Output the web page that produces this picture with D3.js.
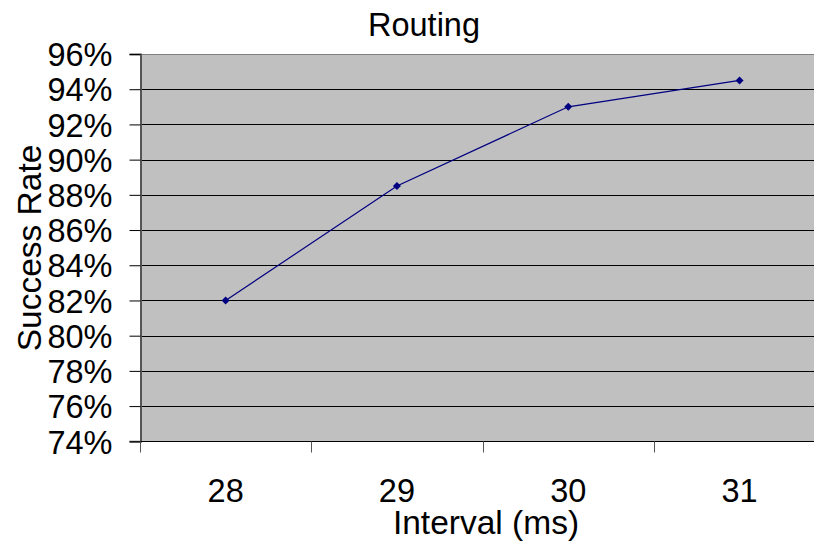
<!DOCTYPE html>
<html>
<head>
<meta charset="utf-8">
<script src="https://cdn.jsdelivr.net/npm/d3@7"></script>
<style>
  html, body { margin: 0; padding: 0; background: #fff; }
  svg { display: block; font-family: "Liberation Sans", Arial, sans-serif; }
</style>
</head>
<body>
<svg id="chart" width="814" height="543"></svg>
<script>
// Routing success rate by interval
const categories = ["28", "29", "30", "31"];
const successRate = [0.82, 0.885, 0.93, 0.945];
const yTicks = [0.74, 0.76, 0.78, 0.80, 0.82, 0.84, 0.86, 0.88, 0.90, 0.92, 0.94, 0.96];

const svg = d3.select("#chart");
const plot = { left: 140, top: 54, bottom: 441.3, bandWidth: 171.3 };
const plotRight = plot.left + plot.bandWidth * categories.length;
const fontSize = 32.5;

const x = d3.scaleBand().domain(categories).range([plot.left, plotRight]).padding(0);
const y = d3.scaleLinear().domain([0.74, 0.96]).range([plot.bottom, plot.top]);

// plot background
svg.append("rect")
  .attr("x", plot.left).attr("y", plot.top)
  .attr("width", plotRight - plot.left).attr("height", plot.bottom - plot.top)
  .attr("fill", "#c0c0c0");

// horizontal gridlines
svg.append("g").selectAll("line").data(yTicks.slice(1)).join("line")
  .attr("x1", plot.left).attr("x2", plotRight)
  .attr("y1", d => Math.round(y(d)) + 0.5).attr("y2", d => Math.round(y(d)) + 0.5)
  .attr("stroke", (d, i, n) => i === n.length - 1 ? "#808080" : "#000")
  .attr("stroke-width", 1);

// y axis
const yAxis = d3.axisLeft(y).tickValues(yTicks).tickSize(11).tickPadding(17)
  .tickFormat(d3.format(".0%"));
const gy = svg.append("g").attr("transform", `translate(${plot.left + 0.5},0)`).call(yAxis);
gy.select(".domain").attr("stroke", "#555").attr("stroke-width", 2);
gy.selectAll(".tick line").attr("stroke", "#000");
gy.selectAll(".tick text").attr("font-size", fontSize).attr("fill", "#000")
  .attr("dy", "0.36em")
  .attr("font-family", "Liberation Sans, Arial, sans-serif");

// x axis with ticks at category boundaries
const gx = svg.append("g").attr("transform", `translate(0,${Math.round(plot.bottom) + 0.5})`);
gx.append("line").attr("x1", plot.left).attr("x2", plotRight).attr("stroke", "#000");
gx.selectAll("line.tk").data(categories).join("line").attr("class", "tk")
  .attr("x1", d => Math.round(x(d)) + 0.5).attr("x2", d => Math.round(x(d)) + 0.5)
  .attr("y1", 0).attr("y2", 11).attr("stroke", "#555");
gx.selectAll("text").data(categories).join("text")
  .attr("x", d => x(d) + x.bandwidth() / 2).attr("y", 60.5)
  .attr("text-anchor", "middle").attr("font-size", fontSize).attr("fill", "#000")
  .text(d => d);

// series line
const line = d3.line().x((d, i) => x(categories[i]) + x.bandwidth() / 2).y(d => y(d));
svg.append("path").datum(successRate).attr("d", line)
  .attr("fill", "none").attr("stroke", "#000080").attr("stroke-width", 1.2);

// diamond markers
svg.append("g").selectAll("path").data(successRate).join("path")
  .attr("transform", (d, i) => `translate(${x(categories[i]) + x.bandwidth() / 2},${y(d)})`)
  .attr("d", "M0,-4L4,0L0,4L-4,0Z")
  .attr("fill", "#000080");

// titles
svg.append("text").attr("x", 424).attr("y", 36).attr("text-anchor", "middle")
  .attr("font-size", fontSize).attr("fill", "#000").text("Routing");
svg.append("text").attr("x", 486).attr("y", 534).attr("text-anchor", "middle")
  .attr("font-size", 33.5).attr("fill", "#000").text("Interval (ms)");
svg.append("text").attr("transform", "translate(41,248) rotate(-90)").attr("text-anchor", "middle")
  .attr("font-size", 33.5).attr("fill", "#000").text("Success Rate");
</script>
</body>
</html>
